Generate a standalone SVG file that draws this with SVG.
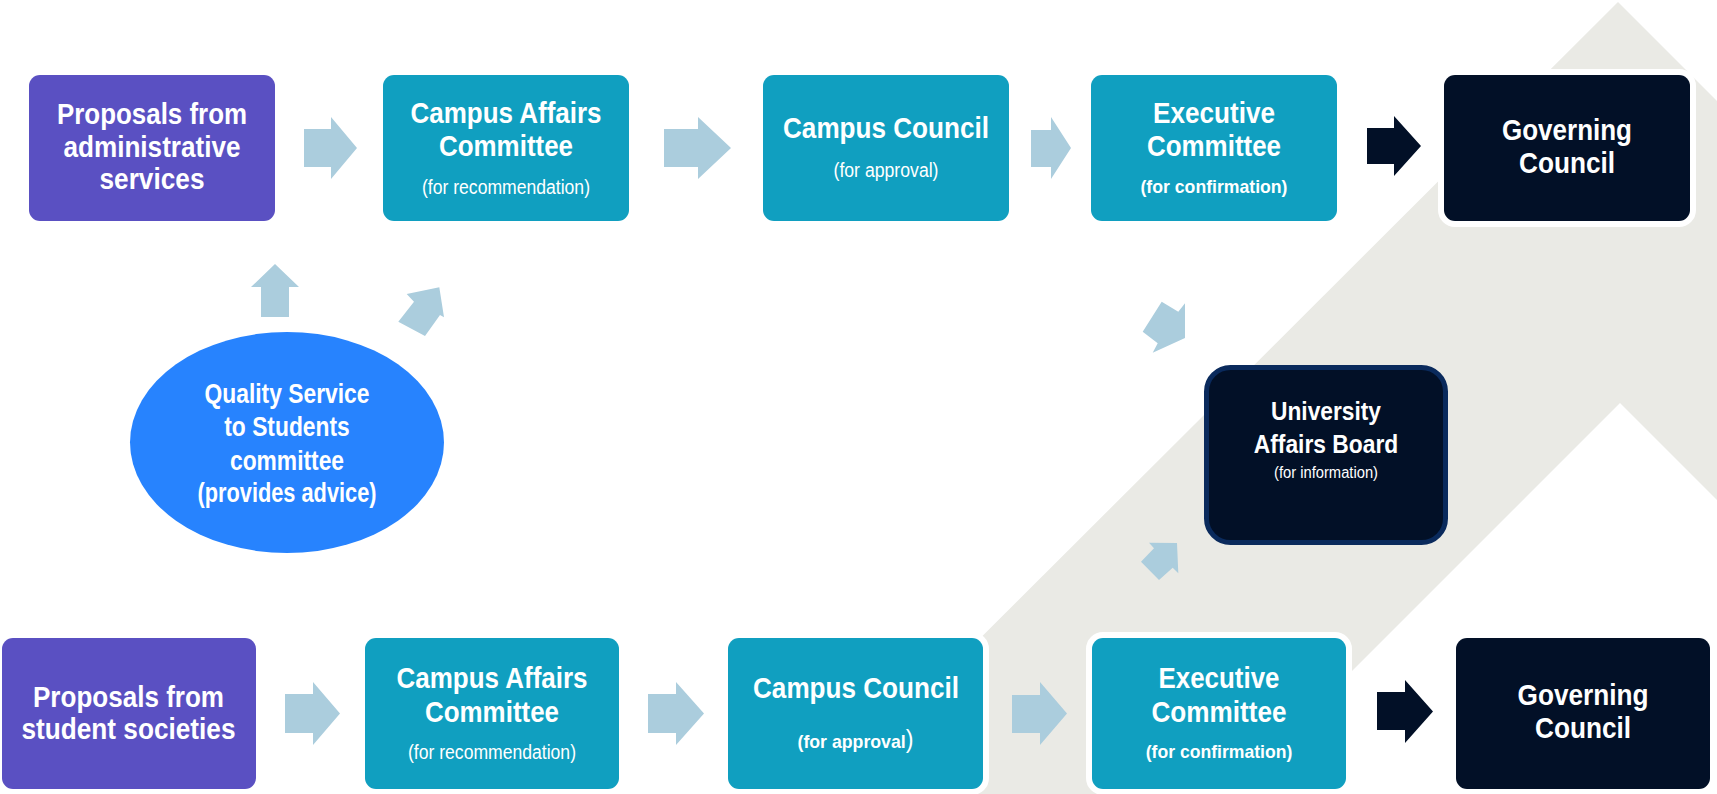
<svg xmlns="http://www.w3.org/2000/svg" width="1717" height="794" viewBox="0 0 1717 794">
  <style>
    text { font-family: "Liberation Sans Narrow", "Liberation Sans", Arial, sans-serif; fill: #ffffff; text-anchor: middle; }
    .t { font-size: 30px; font-weight: bold; }
    .te { font-size: 28px; font-weight: bold; }
    .tu { font-size: 25px; font-weight: bold; }
    .s { font-size: 20px; font-weight: normal; }
    .sb { font-size: 19px; font-weight: bold; }
    .su { font-size: 16px; font-weight: normal; }
    .box { stroke: #ffffff; stroke-width: 12; paint-order: stroke; }
    .purple { fill: #5a50c2; }
    .teal { fill: #109fc0; }
    .dark { fill: #021027; }
    .la { fill: #abcddd; }
    .da { fill: #021027; }
  </style>

  <!-- background chevron -->
  <polygon points="1618,2 1810,194 1810,593 1620,403 1223,800 818,800" fill="#eaeae5"/>

  <g id="connectors">
    <polygon class="la" points="304,129 331,129 331,117 357,148 331,179 331,167 304,167"/>
    <polygon class="la" points="664,129 698,129 698,117 731,148 698,179 698,167 664,167"/>
    <polygon class="la" points="1031,130 1051,130 1051,117 1071,148 1051,179 1051,167 1031,167"/>
    <polygon class="da" points="1367,128 1394,128 1394,116 1421,146 1394,176 1394,164 1367,164"/>
    <polygon class="la" points="285,694 313,694 313,682 340,713.5 313,745 313,733 285,733"/>
    <polygon class="la" points="648,694 676,694 676,682 704,713.5 676,745 676,733 648,733"/>
    <polygon class="la" points="1012,695 1040,695 1040,682 1067,713.5 1040,745 1040,733 1012,733"/>
    <polygon class="da" points="1377,692 1405,692 1405,680 1433,711.5 1405,743 1405,730 1377,730"/>
    <polygon class="la" points="275,264 299,287 289,287 289,317 261,317 261,287 251,287"/>
    <polygon class="la" points="406.7,294 439.3,287.3 444,317.3 440,315 425,336 398.3,321.7 414,301.7"/>
    <polygon class="la" points="1161.7,301.7 1178.3,311.7 1185,303.3 1185,338 1152.7,352.7 1157.7,343.3 1142.7,331.7"/>
    <polygon class="la" points="1149,542.7 1177,543 1178.3,573.3 1172.7,567.7 1159,580 1141,561.7 1154,548.3"/>
  </g>

  <g id="proposals-admin">
    <rect class="box purple" x="29" y="75" width="246" height="146" rx="11"/>
    <text class="t" x="152" y="124" textLength="190" lengthAdjust="spacingAndGlyphs">Proposals from</text>
    <text class="t" x="152" y="156.7" textLength="177" lengthAdjust="spacingAndGlyphs">administrative</text>
    <text class="t" x="152" y="189.3" textLength="105" lengthAdjust="spacingAndGlyphs">services</text>
  </g>

  <g id="cac-top">
    <rect class="box teal" x="383" y="75" width="246" height="146" rx="11"/>
    <text class="t" x="506" y="123.3" textLength="191" lengthAdjust="spacingAndGlyphs">Campus Affairs</text>
    <text class="t" x="506" y="156" textLength="134" lengthAdjust="spacingAndGlyphs">Committee</text>
    <text class="s" x="506" y="194" textLength="168" lengthAdjust="spacingAndGlyphs">(for recommendation)</text>
  </g>

  <g id="cc-top">
    <rect class="box teal" x="763" y="75" width="246" height="146" rx="11"/>
    <text class="t" x="886" y="138.3" textLength="206" lengthAdjust="spacingAndGlyphs">Campus Council</text>
    <text class="s" x="886" y="176.7" textLength="105" lengthAdjust="spacingAndGlyphs">(for approval)</text>
  </g>

  <g id="exec-top">
    <rect class="box teal" x="1091" y="75" width="246" height="146" rx="11"/>
    <text class="t" x="1214" y="123.3" textLength="122" lengthAdjust="spacingAndGlyphs">Executive</text>
    <text class="t" x="1214" y="156" textLength="134" lengthAdjust="spacingAndGlyphs">Committee</text>
    <text class="sb" x="1214" y="193.3" textLength="147" lengthAdjust="spacingAndGlyphs">(for confirmation)</text>
  </g>

  <g id="gov-top">
    <rect class="box dark" x="1444" y="75" width="246" height="146" rx="11"/>
    <text class="t" x="1567" y="140" textLength="130" lengthAdjust="spacingAndGlyphs">Governing</text>
    <text class="t" x="1567" y="173.3" textLength="96" lengthAdjust="spacingAndGlyphs">Council</text>
  </g>

  <g id="qss">
    <ellipse cx="287" cy="442.5" rx="157" ry="110.5" fill="#2783fe"/>
    <text class="te" x="287" y="403.3" textLength="165" lengthAdjust="spacingAndGlyphs">Quality Service</text>
    <text class="te" x="287" y="436" textLength="125.5" lengthAdjust="spacingAndGlyphs">to Students</text>
    <text class="te" x="287" y="470" textLength="114" lengthAdjust="spacingAndGlyphs">committee</text>
    <text class="te" x="287" y="501.7" textLength="179" lengthAdjust="spacingAndGlyphs">(provides advice)</text>
  </g>

  <g id="uab">
    <rect x="1206.5" y="367.5" width="239" height="175" rx="24" fill="#021027" stroke="#0a2a5c" stroke-width="5"/>
    <text class="tu" x="1326" y="420" textLength="110" lengthAdjust="spacingAndGlyphs">University</text>
    <text class="tu" x="1326" y="453.3" textLength="144.5" lengthAdjust="spacingAndGlyphs">Affairs Board</text>
    <text class="su" x="1326" y="478.3" textLength="104" lengthAdjust="spacingAndGlyphs">(for information)</text>
  </g>

  <g id="proposals-students">
    <rect class="box purple" x="2" y="638" width="254" height="151" rx="11"/>
    <text class="t" x="128.5" y="706.7" textLength="191" lengthAdjust="spacingAndGlyphs">Proposals from</text>
    <text class="t" x="128.5" y="739.3" textLength="214" lengthAdjust="spacingAndGlyphs">student societies</text>
  </g>

  <g id="cac-bottom">
    <rect class="box teal" x="365" y="638" width="254" height="151" rx="11"/>
    <text class="t" x="492" y="688.3" textLength="191" lengthAdjust="spacingAndGlyphs">Campus Affairs</text>
    <text class="t" x="492" y="722.3" textLength="134" lengthAdjust="spacingAndGlyphs">Committee</text>
    <text class="s" x="492" y="759.3" textLength="168" lengthAdjust="spacingAndGlyphs">(for recommendation)</text>
  </g>

  <g id="cc-bottom">
    <rect class="box teal" x="728" y="638" width="255" height="151" rx="11"/>
    <text class="t" x="856" y="698.3" textLength="206" lengthAdjust="spacingAndGlyphs">Campus Council</text>
    <text class="sb" x="855.5" y="748" textLength="116" lengthAdjust="spacingAndGlyphs">(for approval<tspan style="font-size:25px;font-weight:normal">)</tspan></text>
  </g>

  <g id="exec-bottom">
    <rect class="box teal" x="1092" y="638" width="254" height="151" rx="11"/>
    <text class="t" x="1219" y="688.3" textLength="121" lengthAdjust="spacingAndGlyphs">Executive</text>
    <text class="t" x="1219" y="721.7" textLength="135" lengthAdjust="spacingAndGlyphs">Committee</text>
    <text class="sb" x="1219" y="758.3" textLength="146.5" lengthAdjust="spacingAndGlyphs">(for confirmation)</text>
  </g>

  <g id="gov-bottom">
    <rect class="box dark" x="1456" y="638" width="254" height="151" rx="11"/>
    <text class="t" x="1583" y="705" textLength="131" lengthAdjust="spacingAndGlyphs">Governing</text>
    <text class="t" x="1583" y="738.3" textLength="96" lengthAdjust="spacingAndGlyphs">Council</text>
  </g>
</svg>
